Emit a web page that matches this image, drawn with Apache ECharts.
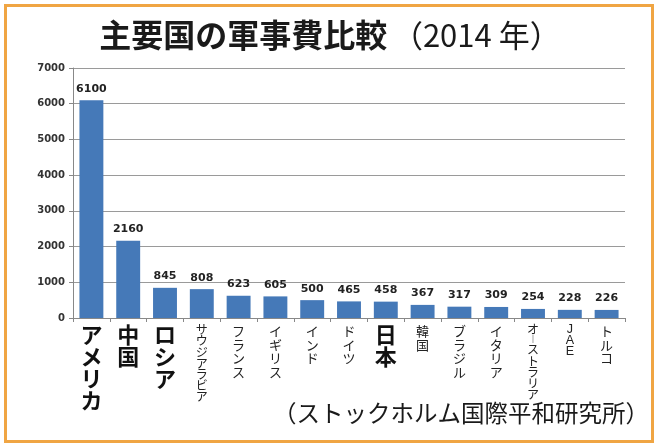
<!DOCTYPE html>
<html><head><meta charset="utf-8">
<script src="https://cdn.jsdelivr.net/npm/echarts@6/dist/echarts.min.js"></script>
<style>html,body{margin:0;padding:0;background:#fff}#c{width:660px;height:448px}</style>
</head><body><div id="c"></div>
<script>
const categories = ['アメリカ','中国','ロシア','サウジアラビア','フランス','イギリス','インド','ドイツ','日本','韓国','ブラジル','イタリア','オーストラリア','JAE','トルコ'];
const values = [6100,2160,845,808,623,605,500,465,458,367,317,309,254,228,226];
const emphasized = ['アメリカ','中国','ロシア','日本'];
const yTicks = [0,1000,2000,3000,4000,5000,6000,7000];
const titleMain = '主要国の軍事費比較';
const titleYear = '（2014 年）';
const sourceText = '（ストックホルム国際平和研究所）';

const jp = '"Noto Sans CJK JP", sans-serif';
const chart = echarts.init(document.getElementById('c'));
chart.setOption({
  backgroundColor: '#fff',
  animation: false,
  title: {
    text: '{m|' + titleMain + '}{g| }{y|' + titleYear + '}',
    left: 'center', top: 14,
    textStyle: {
      rich: {
        m: {fontFamily: jp, fontWeight: 'bold', fontSize: 32, color: '#1a1a1a'},
        g: {fontFamily: jp, fontSize: 20},
        y: {fontFamily: jp, fontWeight: 'normal', fontSize: 31, color: '#1a1a1a'}
      }
    }
  },
  graphic: [
    {type: 'rect', shape: {x: 5.5, y: 5.5, width: 647, height: 436}, style: {fill: 'none', stroke: '#f0a543', lineWidth: 3}, z: 100},
    {type: 'text', right: 11, top: 401, style: {text: sourceText, font: '23.5px "Noto Sans CJK JP", sans-serif', fill: '#1a1a1a'}}
  ],
  grid: {left: 73, right: 35, top: 68, bottom: 130},
  xAxis: {
    type: 'category', data: categories,
    axisLine: {lineStyle: {color: '#888'}},
    axisTick: {show: true, length: 4, lineStyle: {color: '#888'}},
    axisLabel: {
      interval: 0, margin: 6,
      formatter: function (v) {
        const arr = Array.from(v);
        if (emphasized.indexOf(v) >= 0) return '{b|' + arr.join('\n') + '}';
        const st = arr.length >= 7 ? 'c' : (/^[A-Z]+$/.test(v) ? 'l' : 's');
        return arr.map(c => c === 'ー' ? '{v|︱}' : '{' + st + '|' + c + '}').join('\n');
      },
      rich: {
        b: {fontFamily: jp, fontWeight: 'bold', fontSize: 22, lineHeight: 22, color: '#111'},
        s: {fontFamily: jp, fontWeight: 'normal', fontSize: 13, lineHeight: 13.8, color: '#222'},
        c: {fontFamily: jp, fontWeight: 'normal', fontSize: 12, lineHeight: 11.2, color: '#222'},
        v: {fontFamily: jp, fontWeight: 'normal', fontSize: 10, lineHeight: 9, color: '#222'},
        l: {fontFamily: '"Liberation Sans", sans-serif', fontWeight: 'normal', fontSize: 12.5, lineHeight: 11, color: '#222'}
      }
    }
  },
  yAxis: {
    type: 'value', min: 0, max: 7000, interval: 1000,
    axisLine: {show: true, lineStyle: {color: '#888'}},
    axisTick: {show: true, length: 4, lineStyle: {color: '#888'}},
    splitLine: {lineStyle: {color: '#9a9a9a'}},
    axisLabel: {fontFamily: 'DejaVu Sans', fontSize: 10, fontWeight: 'bold', color: '#333', margin: 8,
      formatter: v => yTicks.indexOf(v) >= 0 ? String(v) : ''}
  },
  series: [{
    type: 'bar', data: values, barCategoryGap: '35%',
    itemStyle: {color: '#4579b8'},
    label: {show: true, position: 'top', distance: 6, fontFamily: 'DejaVu Sans', fontWeight: 'bold', fontSize: 11, color: '#222'}
  }]
});
</script></body></html>
